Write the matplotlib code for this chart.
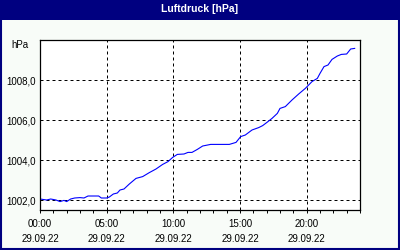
import matplotlib
matplotlib.use('Agg')
import matplotlib.pyplot as plt
from matplotlib.patches import Rectangle

# hours since 00:00 on 29.09.22 and air pressure in hPa
hours = [0.0, 0.5, 0.8, 1.2, 1.5, 1.8, 2.0, 2.3, 2.6, 3.0, 3.3, 3.6, 4.0, 4.4, 4.6,
         5.0, 5.2, 5.5, 5.8, 6.0, 6.3, 6.7, 7.2, 7.7, 8.2, 8.7, 9.2, 9.6, 9.95,
         10.3, 10.8, 11.1, 11.4, 11.8, 12.2, 12.8, 14.2, 14.7, 15.05, 15.4, 15.9,
         16.4, 16.7, 17.0, 17.4, 17.8, 18.0, 18.4, 18.9, 19.4, 19.9, 20.4, 20.8,
         21.0, 21.3, 21.6, 21.9, 22.3, 22.6, 23.0, 23.3, 23.6]
pressure = [1002.05, 1002.0, 1002.05, 1002.0, 1001.92, 1001.98, 1001.92, 1002.05,
            1002.1, 1002.12, 1002.1, 1002.2, 1002.2, 1002.2, 1002.1,
            1002.1, 1002.15, 1002.3, 1002.35, 1002.5, 1002.55, 1002.8, 1003.08,
            1003.17, 1003.37, 1003.55, 1003.78, 1003.92, 1004.13,
            1004.28, 1004.3, 1004.38, 1004.38, 1004.53, 1004.7, 1004.78, 1004.78,
            1004.88, 1005.17, 1005.25, 1005.5,
            1005.62, 1005.72, 1005.87, 1006.08, 1006.33, 1006.58, 1006.67, 1007.0,
            1007.3, 1007.58, 1007.92, 1008.08,
            1008.33, 1008.67, 1008.75, 1009.03, 1009.2, 1009.28, 1009.3, 1009.55, 1009.58]

xticks = [0, 5, 10, 15, 20]
xlabels = ['00:00\n29.09.22', '05:00\n29.09.22', '10:00\n29.09.22',
           '15:00\n29.09.22', '20:00\n29.09.22']
yticks = [1002, 1004, 1006, 1008]
ylabels = ['1002,0', '1004,0', '1006,0', '1008,0']

navy = '#000080'
plt.rcParams['font.family'] = ['Liberation Sans', 'DejaVu Sans']

fig = plt.figure(figsize=(4, 2.5), dpi=100, facecolor='#f8fcf8')
W, H = 400, 250
# title bar and frame
fig.patches.append(Rectangle((0, 1 - 20/H), 1, 20/H, transform=fig.transFigure,
                             facecolor=navy, edgecolor='none', zorder=0))
fig.patches.append(Rectangle((0.5/W, 1/H), 1 - 2/W, 1 - 2/H, transform=fig.transFigure,
                             facecolor='none', edgecolor=navy, lw=1.5, zorder=0))
fig.text(0.5, 1 - 9/H, 'Luftdruck [hPa]', color='white', fontsize=7.5,
         fontweight='bold', ha='center', va='center')
fig.text(28/W, 1 - 45/H, 'hPa', fontsize=7, ha='right', va='center')

ax = fig.add_axes([40/W, 40/H, 320/W, 170/H])
ax.set_facecolor('white')
ax.plot(hours, pressure, color='#0000ff', lw=0.8)
ax.set_xlim(0, 24)
ax.set_ylim(1001.5, 1010)
ax.set_xticks(xticks)
ax.set_xticklabels(xlabels, fontsize=7, linespacing=1.6)
ax.set_xticks(range(25), minor=True)
ax.set_yticks(yticks)
ax.set_yticklabels(ylabels, fontsize=7)
ax.tick_params(axis='x', which='both', direction='out', length=2.5, width=0.7, pad=4)
ax.tick_params(axis='y', length=0, pad=3)
ax.grid(True, which='major', color='black', lw=0.72, linestyle=(0, (3, 3)))
for s in ax.spines.values():
    s.set_linewidth(0.9)

plt.savefig('out.png', dpi=100, facecolor=fig.get_facecolor())
